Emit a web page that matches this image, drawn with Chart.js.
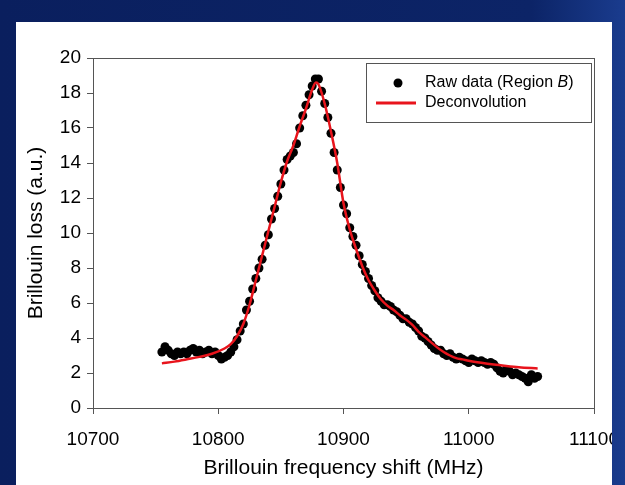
<!DOCTYPE html>
<html>
<head>
<meta charset="utf-8">
<script src="https://cdn.jsdelivr.net/npm/chart.js@4.4.0/dist/chart.umd.min.js"></script>
<style>
  html, body { margin: 0; padding: 0; }
  body {
    width: 625px; height: 485px; overflow: hidden;
    background: linear-gradient(90deg, #0a1f5e 0%, #0c2467 85%, #1a3c8e 100%);
    position: relative;
  }
  #panel {
    position: absolute; left: 16px; top: 22px;
    width: 596px; height: 463px; background: #fff; overflow: hidden;
  }
</style>
</head>
<body>
<div id="panel"><canvas id="brillouin" width="609" height="463"></canvas></div>
<script>
// ------------ raw data (Region B) ------------ //
var rawFreq = [
  10755, 10757.5, 10760, 10762.5, 10765, 10767.5, 10770, 10772.5, 10775, 10777.5,
  10780, 10782.5, 10785, 10787.5, 10790, 10792.5, 10795, 10797.5, 10800, 10802.5,
  10805, 10807.5, 10810, 10812.5, 10815, 10817.5, 10820, 10822.5, 10825, 10827.5,
  10830, 10832.5, 10835, 10837.5, 10840, 10842.5, 10845, 10847.5, 10850, 10852.5,
  10855, 10857.5, 10860, 10862.5, 10865, 10867.5, 10870, 10872.5, 10875, 10877.5,
  10880, 10882.5, 10885, 10887.5, 10890, 10892.5, 10895, 10897.5, 10900, 10902.5,
  10905, 10907.5, 10910, 10912.5, 10915, 10917.5, 10920, 10922.5, 10925, 10927.5,
  10930, 10932.5, 10935, 10937.5, 10940, 10942.5, 10945, 10947.5, 10950, 10952.5,
  10955, 10957.5, 10960, 10962.5, 10965, 10967.5, 10970, 10972.5, 10975, 10977.5,
  10980, 10982.5, 10985, 10987.5, 10990, 10992.5, 10995, 10997.5, 11000, 11002.5,
  11005, 11007.5, 11010, 11012.5, 11015, 11017.5, 11020, 11022.5, 11025, 11027.5,
  11030, 11032.5, 11035, 11037.5, 11040, 11042.5, 11045, 11047.5, 11050, 11052.5,
  11055
];
var rawLoss = [
  3.2, 3.5, 3.3, 3.1, 3.0, 3.2, 3.1, 3.2, 3.1, 3.3,
  3.4, 3.2, 3.3, 3.1, 3.2, 3.3, 3.1, 3.2, 3.0, 2.8,
  2.9, 3.0, 3.2, 3.5, 3.9, 4.4, 4.8, 5.6, 6.1, 6.8,
  7.4, 8.0, 8.5, 9.3, 9.9, 10.8, 11.4, 12.1, 12.8, 13.6,
  14.2, 14.4, 14.6, 15.1, 16.0, 16.7, 17.3, 17.9, 18.4, 18.8,
  18.8, 18.1, 17.4, 16.6, 15.7, 14.6, 13.6, 12.6, 11.6, 11.1,
  10.3, 9.8, 9.3, 8.7, 8.2, 7.8, 7.4, 7.0, 6.7, 6.3,
  6.1, 5.9, 5.9, 5.8, 5.6, 5.5, 5.3, 5.1, 5.1, 4.9,
  4.8, 4.6, 4.4, 4.1, 4.0, 3.8, 3.6, 3.4, 3.3, 3.3,
  3.1, 3.0, 3.1, 2.9, 2.8, 2.9, 2.8, 2.7, 2.6, 2.8,
  2.7, 2.6, 2.7, 2.6, 2.5, 2.6, 2.5, 2.3, 2.1, 2.0,
  2.2, 2.1, 1.9, 2.0, 1.9, 1.8, 1.7, 1.5, 1.9, 1.7,
  1.8
];

// ------------ deconvolution curve ------------ //
var fitFreq = [
  10755, 10765, 10775, 10785, 10795, 10805, 10810, 10815, 10820, 10825,
  10830, 10835, 10840, 10845, 10850, 10855, 10860, 10865, 10870, 10875,
  10878, 10880, 10883, 10886, 10890, 10895, 10900, 10905, 10910, 10915,
  10920, 10925, 10930, 10935, 10940, 10945, 10950, 10955, 10960, 10965,
  10970, 10975, 10980, 10985, 10990, 10995, 11000, 11010, 11020, 11030,
  11040, 11050, 11055
];
var fitLoss = [
  2.55, 2.65, 2.78, 2.92, 3.1, 3.4, 3.65, 4.1, 4.8, 5.9,
  7.3, 8.7, 10.1, 11.5, 12.9, 14.1, 15.0, 16.1, 17.1, 18.2,
  18.6, 18.5, 17.9, 17.1, 15.8, 14.0, 11.7, 10.2, 9.1, 8.1,
  7.3, 6.7, 6.2, 5.85, 5.6, 5.3, 5.05, 4.75, 4.35, 4.05,
  3.75, 3.45, 3.2, 3.0, 2.85, 2.78, 2.7, 2.58, 2.48, 2.4,
  2.33, 2.28, 2.26
];

var xTicks = [10700, 10800, 10900, 11000, 11100];
var yTicks = [0, 2, 4, 6, 8, 10, 12, 14, 16, 18, 20];

var fontFamily = '"Liberation Sans", Arial, sans-serif';
var axisColor = '#555';

function toPoints(xs, ys) {
    return xs.map(function (x, i) { return { x: x, y: ys[i] }; });
}

// box round the plot area
var frame = {
    id: 'frame',
    afterDraw: function (chart) {
        var a = chart.chartArea, ctx = chart.ctx;
        ctx.save();
        ctx.strokeStyle = axisColor;
        ctx.lineWidth = 1;
        ctx.strokeRect(Math.round(a.left) + 0.5, Math.round(a.top) + 0.5,
            Math.round(a.right - a.left), Math.round(a.bottom - a.top));
        ctx.restore();
    }
};

// legend with the italic B
var legendBox = {
    id: 'legendBox',
    afterDraw: function (chart) {
        var ctx = chart.ctx;
        var x = 350, y = 41, w = 225, h = 59;
        ctx.save();
        ctx.strokeStyle = axisColor;
        ctx.lineWidth = 1;
        ctx.strokeRect(x + 0.5, y + 0.5, w, h);

        ctx.fillStyle = '#000';
        ctx.beginPath();
        ctx.arc(382, 61, 4.5, 0, Math.PI * 2);
        ctx.fill();

        ctx.strokeStyle = '#e8141c';
        ctx.lineWidth = 3;
        ctx.beginPath();
        ctx.moveTo(360, 81);
        ctx.lineTo(400, 81);
        ctx.stroke();

        ctx.fillStyle = '#000';
        ctx.textBaseline = 'middle';
        ctx.font = '16px ' + fontFamily;
        var t1 = 'Raw data (Region ';
        ctx.fillText(t1, 409, 61);
        var w1 = ctx.measureText(t1).width;
        ctx.font = 'italic 16px ' + fontFamily;
        ctx.fillText('B', 409 + w1, 61);
        var w2 = ctx.measureText('B').width;
        ctx.font = '16px ' + fontFamily;
        ctx.fillText(')', 409 + w1 + w2, 61);
        ctx.fillText('Deconvolution', 409, 81);
        ctx.restore();
    }
};

new Chart('brillouin', {
    type: 'scatter',
    data: {
        datasets: [{
            label: 'Deconvolution',
            data: toPoints(fitFreq, fitLoss),
            showLine: true,
            borderColor: '#e8141c',
            borderWidth: 2.5,
            pointRadius: 0,
            cubicInterpolationMode: 'monotone',
            order: 0
        }, {
            label: 'Raw data (Region B)',
            data: toPoints(rawFreq, rawLoss),
            backgroundColor: '#000',
            borderColor: '#000',
            pointRadius: 4.5,
            borderWidth: 0,
            order: 1
        }]
    },
    options: {
        responsive: false,
        animation: false,
        layout: { padding: { left: 0, right: 31, top: 36, bottom: 0 } },
        plugins: {
            legend: { display: false },
            tooltip: { enabled: false }
        },
        scales: {
            x: {
                type: 'linear',
                min: 10700,
                max: 11100,
                afterBuildTicks: function (s) { s.ticks = xTicks.map(function (v) { return { value: v }; }); },
                afterFit: function (s) { s.height = 77; s.paddingLeft = 0; s.paddingRight = 0; },
                ticks: {
                    color: '#000',
                    font: { family: fontFamily, size: 19 },
                    padding: 14,
                    maxRotation: 0,
                    callback: function (v) { return String(v); }
                },
                grid: { drawOnChartArea: false, color: axisColor, tickLength: 6 },
                border: { color: axisColor },
                title: {
                    display: true,
                    text: 'Brillouin frequency shift (MHz)',
                    color: '#000',
                    font: { family: fontFamily, size: 21 },
                    padding: { top: 0, bottom: 4 }
                }
            },
            y: {
                min: 0,
                max: 20,
                afterBuildTicks: function (s) { s.ticks = yTicks.map(function (v) { return { value: v }; }); },
                afterFit: function (s) { s.width = 77; s.paddingTop = 0; s.paddingBottom = 0; },
                ticks: {
                    color: '#000',
                    font: { family: fontFamily, size: 19 },
                    padding: 6
                },
                grid: { drawOnChartArea: false, color: axisColor, tickLength: 6 },
                border: { color: axisColor },
                title: {
                    display: true,
                    text: 'Brillouin loss (a.u.)',
                    color: '#000',
                    font: { family: fontFamily, size: 21 },
                    padding: { top: 8, bottom: 0 }
                }
            }
        }
    },
    plugins: [frame, legendBox]
});
</script>
</body>
</html>
